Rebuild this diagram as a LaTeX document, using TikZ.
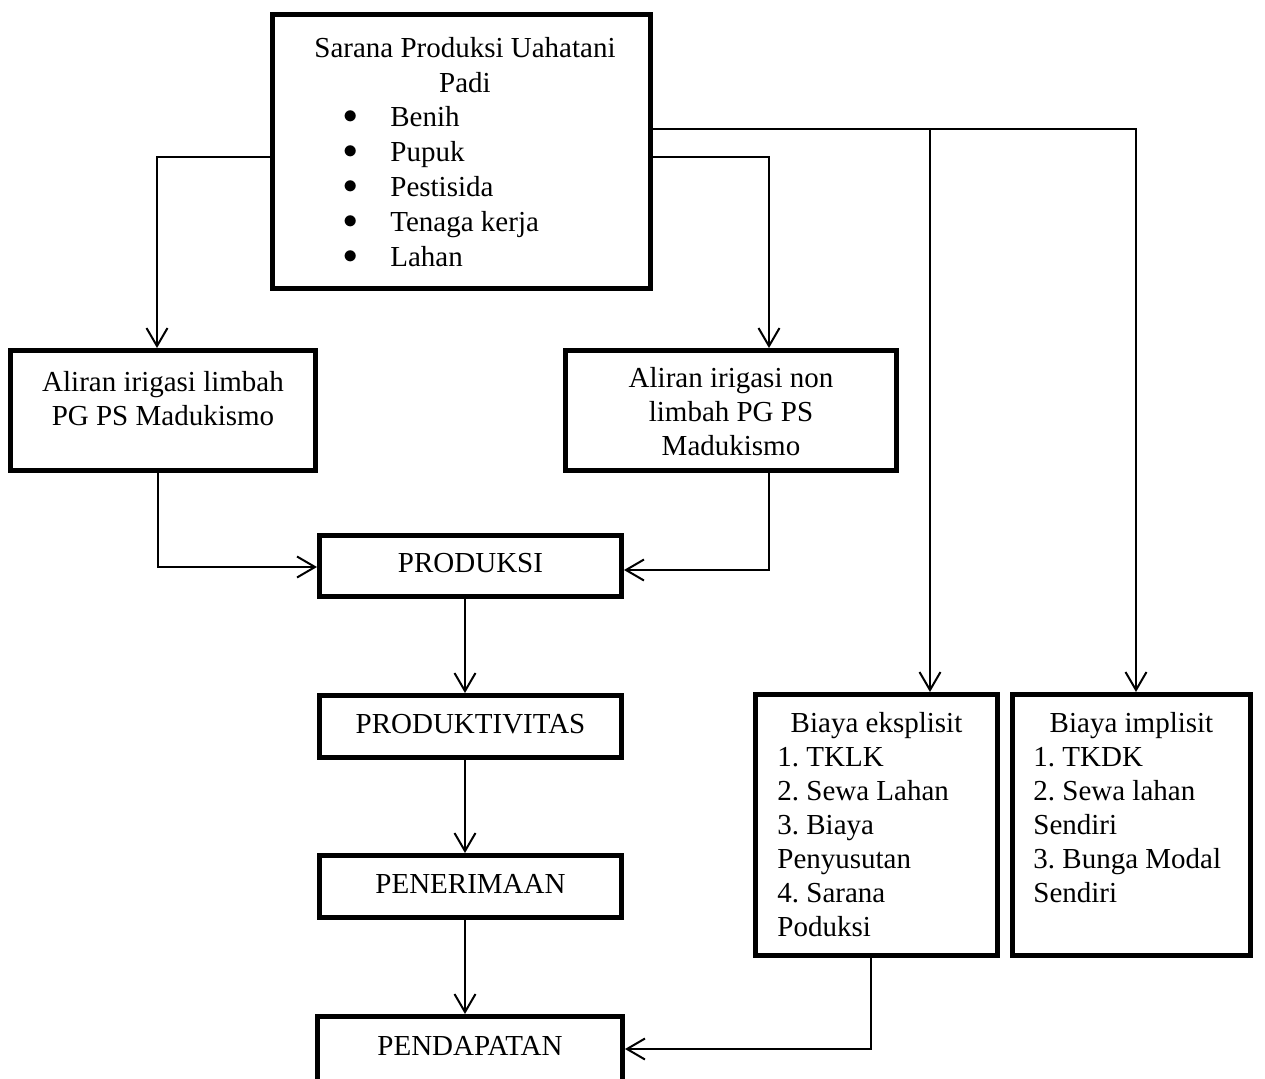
\documentclass[tikz,border=0pt]{standalone}
\usepackage{fontspec}
\setmainfont{Liberation Serif}
\usetikzlibrary{arrows.meta,fit}
\newcommand\mybul{\makebox[22.5pt][l]{\hspace{-1pt}\raisebox{1.6pt}{$\bullet$}}}
\frenchspacing
\begin{document}
\frenchspacing
\begin{tikzpicture}[x=0.5pt,y=-0.5pt,
  box/.style={draw, line width=2.5pt, inner sep=0pt, rectangle},
  conn/.style={line width=1pt},
  arr/.style={conn, -{Straight Barb[length=9pt,width=10.5pt]}},
  txt/.style={inner sep=0pt, font=\fontsize{14.5}{17}\selectfont},
  ttxt/.style={inner sep=0pt, font=\fontsize{14.5}{17.5}\selectfont}]
\useasboundingbox (0,0) rectangle (1265,1078);
\clip (0,0) rectangle (1265,1078);

% boxes
\node[box, fit={(272.5,14.5) (650.5,288.5)}] (top) {};
\node[box, fit={(10.5,350.5) (315.5,470.5)}] (lft) {};
\node[box, fit={(565.5,350.5) (896.5,470.5)}] (mid) {};
\node[box, fit={(319.5,535.5) (621.5,596.5)}] (prod) {};
\node[box, fit={(319.5,695.5) (621.5,757.5)}] (prodv) {};
\node[box, fit={(319.5,855.5) (621.5,917.5)}] (pener) {};
\node[box, fit={(317.5,1016.5) (622.5,1100)}] (pend) {};
\node[box, fit={(755.5,694.5) (997.5,955.5)}] (eks) {};
\node[box, fit={(1012.5,694.5) (1250.5,955.5)}] (imp) {};

% texts
\node[ttxt, anchor=north, align=center] (ttop) at (465,32.5)
  {\strut Sarana Produksi Uahatani\\\strut Padi};
\node[ttxt, anchor=north west, align=left] (tlist) at (345,101.5)
  {\strut\mybul Benih\\\strut\mybul Pupuk\\\strut\mybul Pestisida\\\strut\mybul Tenaga kerja\\\strut\mybul Lahan};
\node[txt, anchor=north, align=center] (tlft) at (163,367.2)
  {\strut Aliran irigasi limbah\\\strut PG PS Madukismo};
\node[txt, anchor=north, align=center] (tmid) at (731,363.2)
  {\strut Aliran irigasi non\\\strut limbah PG PS\\\strut Madukismo};
\node[txt, anchor=base] (tprod) at (470.5,572) {PRODUKSI};
\node[txt, anchor=base] (tprodv) at (470.5,733) {PRODUKTIVITAS};
\node[txt, anchor=base] (tpener) at (470.5,893) {PENERIMAAN};
\node[txt, anchor=base] (tpend) at (470,1055) {PENDAPATAN};
\node[txt, anchor=base] (teks) at (876.5,732) {Biaya eksplisit};
\node[txt, anchor=north west, align=left] (teksl) at (777,742.2)
  {\strut 1.~TKLK\\\strut 2.~Sewa Lahan\\\strut 3.~Biaya\\\strut Penyusutan\\\strut 4.~Sarana\\\strut Poduksi};
\node[txt, anchor=base] (timp) at (1131.5,732) {Biaya implisit};
\node[txt, anchor=north west, align=left] (timpl) at (1033,742.2)
  {\strut 1.~TKDK\\\strut 2.~Sewa lahan\\\strut Sendiri\\\strut 3.~Bunga Modal\\\strut Sendiri};

% connectors
\coordinate (j1) at (157,157);
\coordinate (j2) at (769,157);
\coordinate (j3) at (1136,129);
\coordinate (j4) at (930,129);
\coordinate (j5) at (158,567);
\coordinate (j6) at (769,570);
\coordinate (jx) at (465,0);
\coordinate (j7) at (871,1049);

\draw[arr] (top.west |- j1) -- (j1) -- (j1 |- lft.north);
\draw[arr] (top.east |- j2) -- (j2) -- (j2 |- mid.north);
\draw[arr] (top.east |- j3) -- (j3) -- (j3 |- imp.north);
\draw[arr] (j4) -- (j4 |- eks.north);
\draw[arr] (j5 |- lft.south) -- (j5) -- (j5 -| prod.west);
\draw[arr] (j6 |- mid.south) -- (j6) -- (j6 -| prod.east);
\draw[arr] (jx |- prod.south) -- (jx |- prodv.north);
\draw[arr] (jx |- prodv.south) -- (jx |- pener.north);
\draw[arr] (jx |- pener.south) -- (jx |- pend.north);
\draw[arr] (j7 |- eks.south) -- (j7) -- (j7 -| pend.east);
\end{tikzpicture}
\end{document}
